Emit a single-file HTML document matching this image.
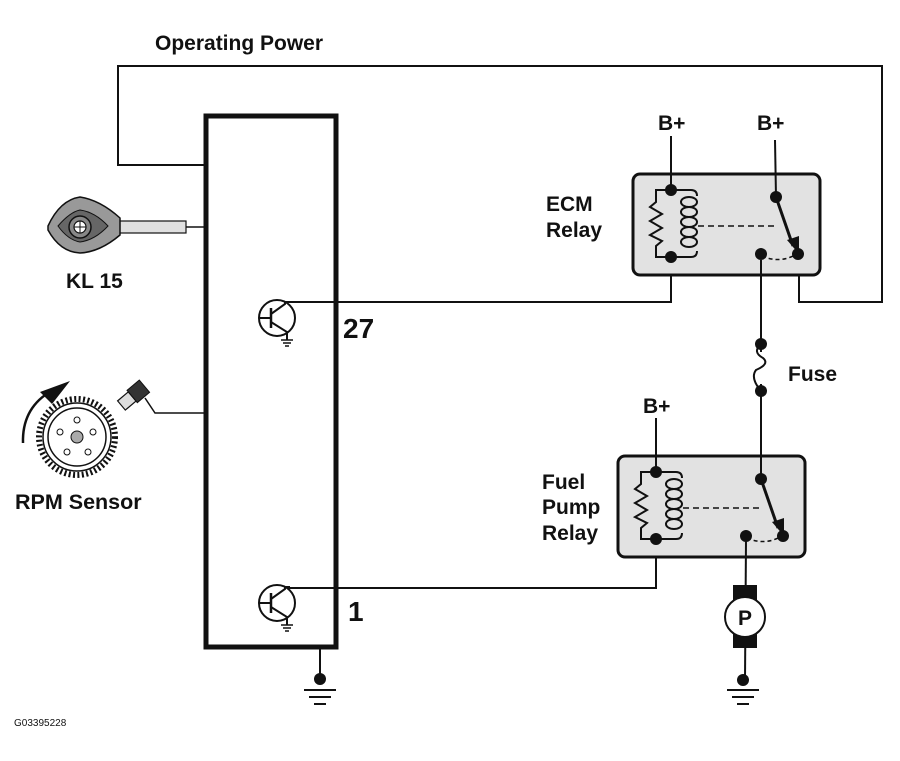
<!DOCTYPE html>
<html><head><style>
body{margin:0;background:#fff;}
svg{display:block;font-family:"Liberation Sans",Arial,sans-serif;font-weight:bold;}
</style></head><body>
<svg width="900" height="761" viewBox="0 0 900 761" xmlns="http://www.w3.org/2000/svg">
<defs>
<g id="relay">
  <rect x="618" y="456" width="187" height="101" rx="7" fill="#e2e2e2" stroke="#111" stroke-width="3"/>
  <path d="M656 472 H641 V484 L635 489 L647 496 L635 503 L647 510 L635 517 L647 523 L641 528 V539 H656" fill="none" stroke="#111" stroke-width="2"/>
  <path d="M656 472 H676 Q682 472 682 478 M656 539 H676 Q682 539 682 533" fill="none" stroke="#111" stroke-width="2"/>
  <g fill="none" stroke="#111" stroke-width="2">
    <ellipse cx="674" cy="484" rx="8" ry="5"/>
    <ellipse cx="674" cy="494" rx="8" ry="5"/>
    <ellipse cx="674" cy="504" rx="8" ry="5"/>
    <ellipse cx="674" cy="514" rx="8" ry="5"/>
    <ellipse cx="674" cy="524" rx="8" ry="5"/>
  </g>
  <line x1="683" y1="508" x2="760" y2="508" stroke="#111" stroke-width="1.5" stroke-dasharray="6,4"/>
  <path d="M747 538 Q765 546 782 536" fill="none" stroke="#111" stroke-width="1.5" stroke-dasharray="4,3"/>
  <line x1="761" y1="479" x2="778" y2="528" stroke="#111" stroke-width="3"/>
  <polygon points="772,522 784,536 784,518" fill="#111"/>
  <circle cx="656" cy="472" r="6" fill="#111"/>
  <circle cx="656" cy="539" r="6" fill="#111"/>
  <circle cx="761" cy="479" r="6" fill="#111"/>
  <circle cx="783" cy="536" r="6" fill="#111"/>
  <circle cx="746" cy="536" r="6" fill="#111"/>
</g>
<g id="tr">
  <circle cx="0" cy="0" r="18" fill="#fff" stroke="#111" stroke-width="2"/>
  <line x1="-6" y1="-10" x2="-6" y2="10" stroke="#111" stroke-width="2.5"/>
  <line x1="-18" y1="0" x2="-6" y2="0" stroke="#111" stroke-width="2"/>
  <path d="M-6 -4 L8 -14 V-16 M-6 4 L10 14 V22" fill="none" stroke="#111" stroke-width="2"/>
  <line x1="13" y1="-16" x2="8" y2="-16" stroke="#111" stroke-width="2"/>
  <line x1="4" y1="22" x2="16" y2="22" stroke="#111" stroke-width="1.5"/>
  <line x1="6" y1="25" x2="14" y2="25" stroke="#111" stroke-width="1.5"/>
  <line x1="8" y1="28" x2="12" y2="28" stroke="#111" stroke-width="1.5"/>
</g>
</defs>

<text x="155" y="50" font-size="21" fill="#111">Operating Power</text>
<polyline points="205,165 118,165 118,66 882,66 882,302 799,302 799,262" fill="none" stroke="#111" stroke-width="2"/>

<rect x="206" y="116" width="130" height="531" fill="#fff" stroke="#111" stroke-width="5"/>

<polyline points="288,302 671,302 671,262" fill="none" stroke="#111" stroke-width="2"/>
<polyline points="288,588 656,588 656,545" fill="none" stroke="#111" stroke-width="2"/>
<use href="#tr" x="277" y="318"/>
<use href="#tr" x="277" y="603"/>
<text x="343" y="338" font-size="28" fill="#111">27</text>
<text x="348" y="621" font-size="28" fill="#111">1</text>

<line x1="320" y1="648" x2="320" y2="678" stroke="#111" stroke-width="2"/>
<circle cx="320" cy="679" r="6" fill="#111"/>
<line x1="304" y1="690" x2="336" y2="690" stroke="#111" stroke-width="2"/>
<line x1="309" y1="697" x2="331" y2="697" stroke="#111" stroke-width="2"/>
<line x1="314" y1="704" x2="326" y2="704" stroke="#111" stroke-width="2"/>

<use href="#relay" transform="translate(15,-282)"/>
<use href="#relay"/>
<text x="658" y="130" font-size="21" fill="#111">B+</text>
<text x="757" y="130" font-size="21" fill="#111">B+</text>
<line x1="671" y1="136" x2="671" y2="190" stroke="#111" stroke-width="2"/>
<line x1="775" y1="140" x2="776" y2="197" stroke="#111" stroke-width="2"/>
<text x="546" y="211" font-size="21" fill="#111">ECM</text>
<text x="546" y="237" font-size="21" fill="#111">Relay</text>

<line x1="761" y1="260" x2="761" y2="478" stroke="#111" stroke-width="2"/>
<rect x="752" y="352" width="18" height="32" fill="#fff"/>
<path d="M761 344 Q752 352 763 358 Q770 364 756 370 Q750 378 761 391" fill="none" stroke="#111" stroke-width="2"/>
<circle cx="761" cy="344" r="6" fill="#111"/>
<circle cx="761" cy="391" r="6" fill="#111"/>
<text x="788" y="381" font-size="21" fill="#111">Fuse</text>

<text x="643" y="413" font-size="21" fill="#111">B+</text>
<line x1="656" y1="418" x2="656" y2="472" stroke="#111" stroke-width="2"/>
<text x="542" y="489" font-size="21" fill="#111">Fuel</text>
<text x="542" y="514" font-size="21" fill="#111">Pump</text>
<text x="542" y="540" font-size="21" fill="#111">Relay</text>

<line x1="746" y1="540" x2="745" y2="680" stroke="#111" stroke-width="2"/>
<rect x="733" y="585" width="24" height="15" fill="#111"/>
<rect x="733" y="633" width="24" height="15" fill="#111"/>
<circle cx="745" cy="617" r="20" fill="#fff" stroke="#111" stroke-width="2"/>
<text x="745" y="625" font-size="21" text-anchor="middle" fill="#111">P</text>
<circle cx="743" cy="680" r="6" fill="#111"/>
<line x1="727" y1="690" x2="759" y2="690" stroke="#111" stroke-width="2"/>
<line x1="732" y1="697" x2="754" y2="697" stroke="#111" stroke-width="2"/>
<line x1="737" y1="704" x2="749" y2="704" stroke="#111" stroke-width="2"/>

<line x1="185" y1="227" x2="205" y2="227" stroke="#111" stroke-width="1.5"/>
<rect x="118" y="221" width="68" height="12" fill="#e0e0e0" stroke="#111" stroke-width="1.2"/>
<path d="M48 226 Q60 200 80 197 Q100 200 120 218 V235 Q100 252 80 253 Q60 252 48 230 Z" fill="#999" stroke="#111" stroke-width="1.5"/>
<path d="M58 226 Q70 212 80 210 Q95 212 108 226 Q95 240 80 242 Q68 240 58 226 Z" fill="#666" stroke="#111" stroke-width="1"/>
<circle cx="80" cy="227" r="11" fill="#888" stroke="#111" stroke-width="1.5"/>
<circle cx="80" cy="227" r="6" fill="#fff" stroke="#111" stroke-width="1.2"/>
<path d="M80 221 V233 M74 227 H86" stroke="#111" stroke-width="1"/>
<text x="66" y="288" font-size="21" fill="#111">KL 15</text>

<circle cx="77" cy="437" r="38" fill="none" stroke="#111" stroke-width="6" stroke-dasharray="2,2.4"/>
<circle cx="77" cy="437" r="34" fill="#fff" stroke="#111" stroke-width="1.5"/>
<circle cx="77" cy="437" r="29" fill="#fff" stroke="#111" stroke-width="1.5"/>
<circle cx="77" cy="437" r="6" fill="#aaa" stroke="#111" stroke-width="1"/>
<circle cx="77" cy="420" r="3" fill="#fff" stroke="#111"/>
<circle cx="93" cy="432" r="3" fill="#fff" stroke="#111"/>
<circle cx="60" cy="432" r="3" fill="#fff" stroke="#111"/>
<circle cx="67" cy="452" r="3" fill="#fff" stroke="#111"/>
<circle cx="88" cy="452" r="3" fill="#fff" stroke="#111"/>
<path d="M23 443 Q22 410 48 393" fill="none" stroke="#111" stroke-width="2.5"/>
<polygon points="40,392 70,381 52,404" fill="#111"/>
<g transform="rotate(-40 130 397)">
<rect x="118" y="392" width="14" height="12" fill="#ddd" stroke="#111" stroke-width="1.2"/>
<rect x="132" y="390" width="16" height="16" fill="#333" stroke="#111"/>
</g>
<polyline points="145,398 155,413 205,413" fill="none" stroke="#111" stroke-width="1.5"/>
<text x="15" y="509" font-size="21.5" fill="#111">RPM Sensor</text>

<text x="14" y="726" font-size="10" font-weight="normal" fill="#111">G03395228</text>
</svg>
</body></html>
